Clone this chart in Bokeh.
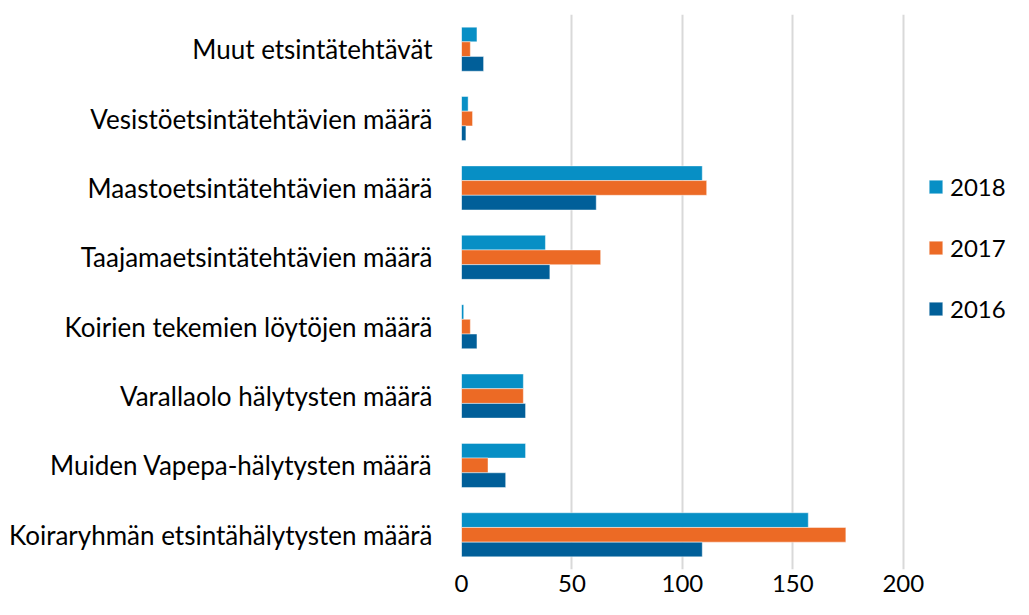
from bokeh.plotting import figure
from bokeh.models import FactorRange, Range1d, FixedTicker, Legend, LegendItem, ColumnDataSource
from bokeh.transform import dodge
from bokeh.embed import file_html
from bokeh.resources import INLINE

categories = [
    "Muut etsintätehtävät",
    "Vesistöetsintätehtävien määrä",
    "Maastoetsintätehtävien määrä",
    "Taajamaetsintätehtävien määrä",
    "Koirien tekemien löytöjen määrä",
    "Varallaolo hälytysten määrä",
    "Muiden Vapepa-hälytysten määrä",
    "Koiraryhmän etsintähälytysten määrä",
]
v2018 = [7, 3, 109, 38, 1, 28, 29, 157]
v2017 = [4, 5, 111, 63, 4, 28, 12, 174]
v2016 = [10, 2, 61, 40, 7, 29, 20, 109]
x_ticks = [0, 50, 100, 150, 200]

FONT = "Lato"
src = ColumnDataSource(dict(cat=categories, y2018=v2018, y2017=v2017, y2016=v2016))

p = figure(width=1013, height=599, output_backend="svg", toolbar_location=None,
           y_range=FactorRange(factors=list(reversed(categories))),
           x_range=Range1d(0, 249.9))
p.min_border_left = 461
p.min_border_right = 0
p.min_border_top = 14
p.min_border_bottom = 30
p.outline_line_color = None
p.background_fill_color = "white"
p.border_fill_color = "white"

bh = 0.212
cols = {"2018": "#078FC5", "2017": "#EC6A25", "2016": "#015F99"}
r18 = p.hbar(y=dodge("cat", bh, range=p.y_range), right="y2018", left=0, height=bh, source=src,
             fill_color=cols["2018"], line_color="white", line_alpha=0.45, line_width=1)
r17 = p.hbar(y=dodge("cat", 0, range=p.y_range), right="y2017", left=0, height=bh, source=src,
             fill_color=cols["2017"], line_color="white", line_alpha=0.45, line_width=1)
r16 = p.hbar(y=dodge("cat", -bh, range=p.y_range), right="y2016", left=0, height=bh, source=src,
             fill_color=cols["2016"], line_color="white", line_alpha=0.45, line_width=1)

p.xaxis.ticker = FixedTicker(ticks=x_ticks)
p.xgrid.ticker = FixedTicker(ticks=x_ticks)
p.xgrid.grid_line_color = "#d9d9d9"
p.xgrid.grid_line_width = 2
p.ygrid.grid_line_color = None

for ax in (p.xaxis, p.yaxis):
    ax.axis_line_color = None
    ax.major_tick_line_color = None
    ax.minor_tick_line_color = None
    ax.major_tick_out = 0
    ax.major_tick_in = 0
    ax.major_label_text_font = FONT
    ax.major_label_text_color = "black"
p.xaxis.major_label_text_font_size = "24px"
p.xaxis.major_label_standoff = 5
p.yaxis.major_label_text_font_size = "26px"
p.yaxis.major_label_standoff = 29

legend = Legend(items=[LegendItem(label="2018", renderers=[r18]),
                       LegendItem(label="2017", renderers=[r17]),
                       LegendItem(label="2016", renderers=[r16])],
                location=(466, 246))
legend.glyph_width = 17
legend.glyph_height = 17
legend.label_standoff = 6
legend.spacing = 31
legend.label_height = 30
legend.label_text_font = FONT
legend.label_text_font_size = "24px"
legend.label_text_color = "black"
legend.padding = 0
legend.margin = 0
legend.border_line_alpha = 0
legend.background_fill_alpha = 0
p.add_layout(legend)

open("out.html", "w").write(file_html(p, INLINE))
